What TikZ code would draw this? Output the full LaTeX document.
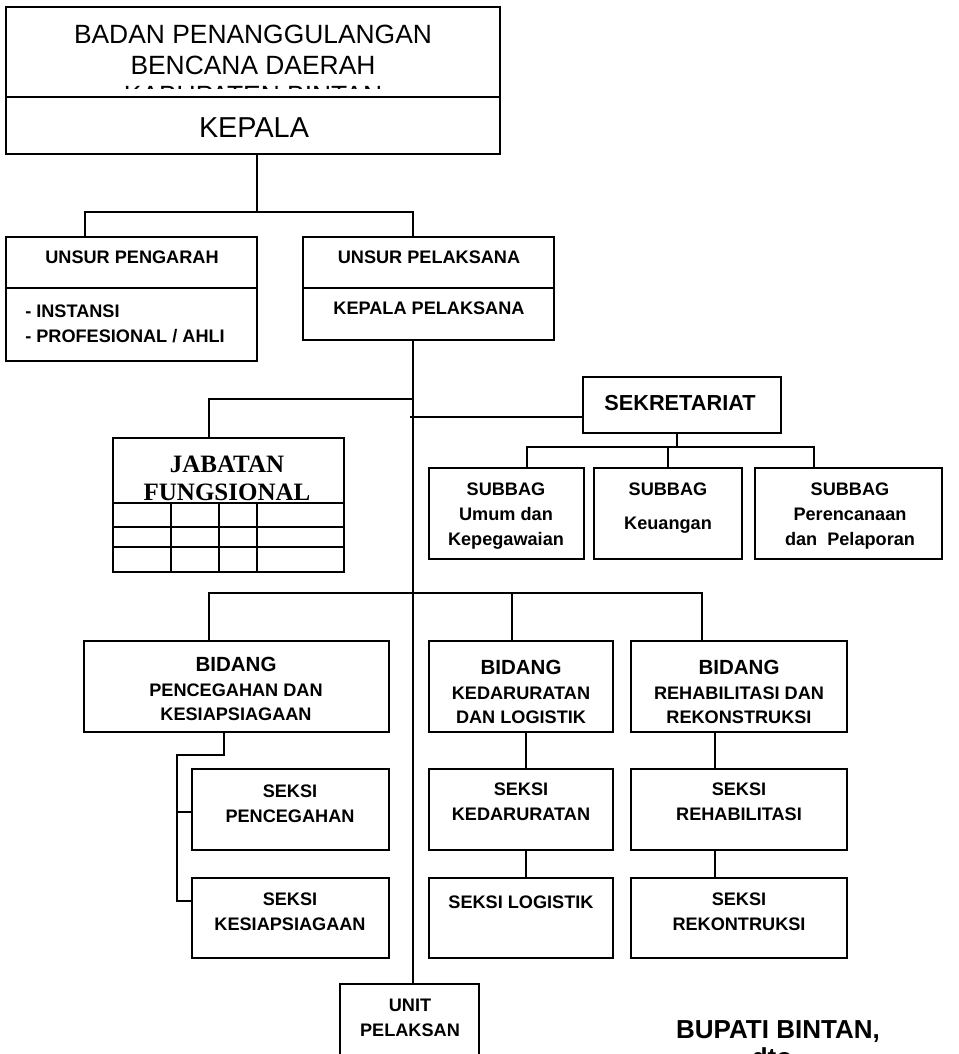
\documentclass[tikz,border=0pt]{standalone}
\usepackage{fontspec}
\setmainfont{Liberation Sans}
\newfontfamily\jabfont{Liberation Serif}
\usetikzlibrary{fit}

\begin{document}
\begin{tikzpicture}[x=0.75pt, y=-0.75pt,
    box/.style={draw, line width=1.4pt, inner sep=0pt},
    lbl/.style={font=\bfseries\fontsize{13.6}{18.4}\selectfont, align=center, inner sep=0pt, anchor=north},
    conn/.style={line width=1.4pt}]
  \useasboundingbox (0,0) rectangle (958,1054);
  \clip (0,0) rectangle (958,1054);

  \node[box, fit={(6,7) (500,97)}] (judul) {};
  \node[box, fit={(6,97) (500,154)}] (kepala) {};
  \begin{scope}
    \clip (6,7) rectangle (500,88);
    \node[lbl, font=\fontsize{19.8}{22.9}\selectfont] (t-judul) at (253,25) {BADAN PENANGGULANGAN\\BENCANA DAERAH\\KABUPATEN BINTAN};
  \end{scope}
  \node[lbl, font=\fontsize{21.6}{24}\selectfont] (t-kepala) at (254,117) {KEPALA};

  \node[box, fit={(6,237) (257,288)}] (pengarah) {};
  \node[box, fit={(6,288) (257,361)}] (anggota) {};
  \node[box, fit={(303,237) (554,288)}] (pelaksana) {};
  \node[box, fit={(303,288) (554,340)}] (kalak) {};
  \node[lbl] (t-pengarah) at (132,251) {UNSUR PENGARAH};
  \node[lbl, align=left, anchor=north west] (t-anggota) at (25,305) {- INSTANSI\\- PROFESIONAL / AHLI};
  \node[lbl] (t-pelaksana) at (429,251) {UNSUR PELAKSANA};
  \node[lbl] (t-kalak) at (429,302) {KEPALA PELAKSANA};

  \node[box, fit={(113,438) (344,572)}] (jabatan) {};
  \node[lbl, font=\jabfont\bfseries\fontsize{18.75}{21}\selectfont] (t-jabatan) at (227,456) {JABATAN\\FUNGSIONAL};
  \foreach \y in {503,527,547}
    \draw[conn] (jabatan.west |- 0,\y) -- (jabatan.east |- 0,\y);
  \foreach \x in {171,219,257}
    \draw[conn] (\x,503) -- (\x,572);

  \node[box, fit={(583,377) (781,433)}] (sekretariat) {};
  \node[lbl, font=\bfseries\fontsize{16.3}{18.4}\selectfont] (t-sekretariat) at (680,395) {SEKRETARIAT};
  \node[box, fit={(429,468) (584,559)}] (subumum) {};
  \node[box, fit={(594,468) (742,559)}] (subkeu) {};
  \node[box, fit={(755,468) (942,559)}] (subren) {};
  \node[lbl] (t-subumum) at (506,483) {SUBBAG\\Umum dan\\Kepegawaian};
  \node[lbl] (t-subkeu) at (668,483) {SUBBAG\\[6.4pt]Keuangan};
  \node[lbl] (t-subren) at (850,483) {SUBBAG\\Perencanaan\\dan~ Pelaporan};

  \node[box, fit={(84,641) (389,732)}] (bidcegah) {};
  \node[box, fit={(429,641) (613,732)}] (biddarurat) {};
  \node[box, fit={(631,641) (847,732)}] (bidrehab) {};
  \node[lbl] (t-bidcegah) at (236,657) {{\fontsize{15.4}{18.4}\selectfont BIDANG}\\PENCEGAHAN DAN\\KESIAPSIAGAAN};
  \node[lbl] (t-biddarurat) at (521,660) {{\fontsize{15.4}{18.4}\selectfont BIDANG}\\KEDARURATAN\\DAN LOGISTIK};
  \node[lbl] (t-bidrehab) at (739,660) {{\fontsize{15.4}{18.4}\selectfont BIDANG}\\REHABILITASI DAN\\REKONSTRUKSI};

  \node[box, fit={(192,769) (389,850)}] (skcegah) {};
  \node[box, fit={(192,878) (389,958)}] (sksiaga) {};
  \node[box, fit={(429,769) (613,850)}] (skdarurat) {};
  \node[box, fit={(429,878) (613,958)}] (sklogistik) {};
  \node[box, fit={(631,769) (847,850)}] (skrehab) {};
  \node[box, fit={(631,878) (847,958)}] (skrekon) {};
  \node[lbl] (t-skcegah) at (290,785) {SEKSI\\PENCEGAHAN};
  \node[lbl] (t-sksiaga) at (290,893) {SEKSI\\KESIAPSIAGAAN};
  \node[lbl] (t-skdarurat) at (521,783) {SEKSI\\KEDARURATAN};
  \node[lbl] (t-sklogistik) at (521,896) {SEKSI LOGISTIK};
  \node[lbl] (t-skrehab) at (739,783) {SEKSI\\REHABILITASI};
  \node[lbl] (t-skrekon) at (739,893) {SEKSI\\REKONTRUKSI};

  \node[box, fit={(340,984) (479,1080)}] (unit) {};
  \node[lbl] (t-unit) at (410,999) {UNIT\\PELAKSAN};

  \node[lbl, font=\bfseries\fontsize{19.5}{22}\selectfont] (t-bupati) at (778,1020) {BUPATI BINTAN,};
  \node[lbl, font=\bfseries\fontsize{19.5}{22}\selectfont] (t-dto) at (772,1047) {dto};

  % garis hubung
  \coordinate (k1) at (257,212);
  \coordinate (k1l) at (85,212);
  \coordinate (k1r) at (413,212);
  \draw[conn] (kepala.south -| k1) -- (k1);
  \draw[conn] (pengarah.north -| k1l) -- (k1l) -- (k1r) -- (pelaksana.north -| k1r);
  \draw[conn] (kalak.south -| k1r) -- (unit.north -| k1r);

  \coordinate (j1) at (209,399);
  \draw[conn] (jabatan.north -| j1) -- (j1) -- (j1 -| k1r);
  \coordinate (s0) at (410,417);
  \draw[conn] (s0) -- (s0 -| sekretariat.west);

  \coordinate (s1) at (677,447);
  \coordinate (s1l) at (527,447);
  \coordinate (s1r) at (814,447);
  \draw[conn] (sekretariat.south -| s1) -- (s1);
  \draw[conn] (subumum.north -| s1l) -- (s1l) -- (s1r) -- (subren.north -| s1r);
  \draw[conn] (subkeu.north -| 668,0) -- (668,447);

  \coordinate (b1l) at (209,593);
  \coordinate (b1m) at (512,593);
  \coordinate (b1r) at (702,593);
  \draw[conn] (bidcegah.north -| b1l) -- (b1l) -- (b1r) -- (bidrehab.north -| b1r);
  \draw[conn] (biddarurat.north -| b1m) -- (b1m);

  \coordinate (p1) at (224,755);
  \coordinate (p2) at (177,812);
  \coordinate (p3) at (177,901);
  \draw[conn] (bidcegah.south -| p1) -- (p1) -| (p3) -- (p3 -| sksiaga.west);
  \draw[conn] (p2) -- (p2 -| skcegah.west);

  \coordinate (c1) at (526,0);
  \draw[conn] (biddarurat.south -| c1) -- (skdarurat.north -| c1);
  \draw[conn] (skdarurat.south -| c1) -- (sklogistik.north -| c1);
  \coordinate (r1) at (715,0);
  \draw[conn] (bidrehab.south -| r1) -- (skrehab.north -| r1);
  \draw[conn] (skrehab.south -| r1) -- (skrekon.north -| r1);
\end{tikzpicture}
\end{document}
